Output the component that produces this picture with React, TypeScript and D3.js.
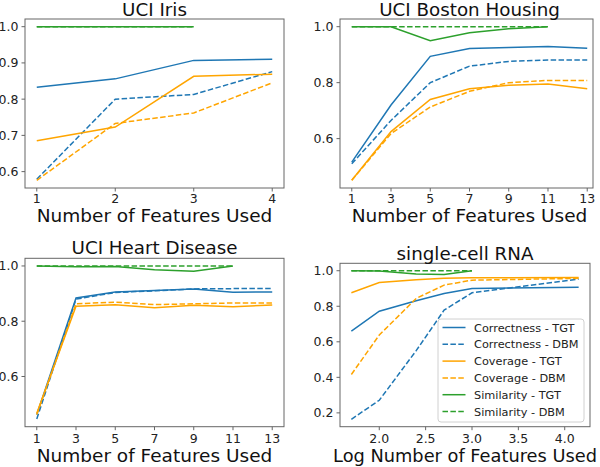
import React from "react";
import * as d3 from "d3";

// ---------- data ----------
const irisX = [1, 2, 3, 4];
const irisCorrTGT = [0.833, 0.856, 0.907, 0.91];
const irisCorrDBM = [0.579, 0.8, 0.813, 0.876];
const irisCovTGT = [0.685, 0.723, 0.863, 0.869];
const irisCovDBM = [0.576, 0.733, 0.762, 0.845];
const irisSimTGT = [1.0, 1.0, 1.0];
const irisSimDBM = [1.0, 1.0, 1.0];

const bostonX = [1, 3, 5, 7, 9, 11, 13];
const bostonCorrTGT = [0.516, 0.72, 0.894, 0.922, 0.926, 0.929, 0.923];
const bostonCorrDBM = [0.51, 0.665, 0.8, 0.859, 0.876, 0.881, 0.881];
const bostonCovTGT = [0.451, 0.625, 0.74, 0.778, 0.791, 0.795, 0.778];
const bostonCovDBM = [0.451, 0.618, 0.713, 0.769, 0.8, 0.808, 0.808];
const bostonSimTGT = [1.0, 1.0, 0.95, 0.978, 0.993, 1.0];
const bostonSimDBM = [1.0, 1.0, 1.0, 1.0, 1.0, 1.0];

const heartX = [1, 3, 5, 7, 9, 11, 13];
const heartCorrTGT = [0.462, 0.884, 0.906, 0.911, 0.917, 0.905, 0.906];
const heartCorrDBM = [0.446, 0.88, 0.904, 0.91, 0.917, 0.918, 0.918];
const heartCovTGT = [0.467, 0.854, 0.86, 0.849, 0.858, 0.852, 0.859];
const heartCovDBM = [0.462, 0.863, 0.869, 0.86, 0.863, 0.866, 0.866];
const heartSimTGT = [1.0, 0.997, 0.998, 0.986, 0.981, 1.0];
const heartSimDBM = [1.0, 1.0, 1.0, 1.0, 1.0, 1.0];

const rnaX = [1.699, 2.0, 2.398, 2.699, 3.0, 4.15];
const rnaCorrTGT = [0.66, 0.772, 0.831, 0.872, 0.9, 0.907];
const rnaCorrDBM = [0.164, 0.271, 0.55, 0.778, 0.876, 0.953];
const rnaCovTGT = [0.876, 0.934, 0.949, 0.957, 0.96, 0.962];
const rnaCovDBM = [0.416, 0.638, 0.844, 0.919, 0.947, 0.957];
const rnaSimTGT = [1.0, 0.998, 0.981, 0.979, 1.0];
const rnaSimDBM = [1.0, 1.0, 1.0, 1.0, 1.0];

const seriesNames = [
  "Correctness - TGT",
  "Correctness - DBM",
  "Coverage - TGT",
  "Coverage - DBM",
  "Similarity - TGT",
  "Similarity - DBM",
];
const seriesColors = ["#1f77b4", "#1f77b4", "#ffa500", "#ffa500", "#2ca02c", "#2ca02c"];
const seriesDashed = [false, true, false, true, false, true];

const titles = ["UCI Iris", "UCI Boston Housing", "UCI Heart Disease", "single-cell RNA"];
const xLabels = [
  "Number of Features Used",
  "Number of Features Used",
  "Number of Features Used",
  "Log Number of Features Used",
];
const xTicks = [
  [1, 2, 3, 4],
  [1, 3, 5, 7, 9, 11, 13],
  [1, 3, 5, 7, 9, 11, 13],
  [2.0, 2.5, 3.0, 3.5, 4.0],
];
const yTicks = [
  [0.6, 0.7, 0.8, 0.9, 1.0],
  [0.6, 0.8, 1.0],
  [0.6, 0.8, 1.0],
  [0.2, 0.4, 0.6, 0.8, 1.0],
];

// ---------- layout ----------
type Box = {
  left: number; right: number; top: number; bottom: number; frameRight: number;
  titleY: number; labelY: number; tickY: number; labelSize: number;
};
const boxes: Box[] = [
  { left: 25, right: 284, top: 19, bottom: 188, frameRight: 284, titleY: 15.5, labelY: 221.5, tickY: 203, labelSize: 18.5 },
  { left: 340, right: 599, top: 19, bottom: 188, frameRight: 593, titleY: 15.5, labelY: 221.5, tickY: 203, labelSize: 18.5 },
  { left: 25, right: 284, top: 258.3, bottom: 426.7, frameRight: 284, titleY: 254, labelY: 461.5, tickY: 442.5, labelSize: 18.5 },
  { left: 340, right: 590, top: 263.3, bottom: 426.7, frameRight: 590, titleY: 260, labelY: 461.5, tickY: 442.5, labelSize: 17.8 },
];

const panelData = [
  { x: irisX, ys: [irisCorrTGT, irisCorrDBM, irisCovTGT, irisCovDBM, irisSimTGT, irisSimDBM] },
  { x: bostonX, ys: [bostonCorrTGT, bostonCorrDBM, bostonCovTGT, bostonCovDBM, bostonSimTGT, bostonSimDBM] },
  { x: heartX, ys: [heartCorrTGT, heartCorrDBM, heartCovTGT, heartCovDBM, heartSimTGT, heartSimDBM] },
  { x: rnaX, ys: [rnaCorrTGT, rnaCorrDBM, rnaCovTGT, rnaCovDBM, rnaSimTGT, rnaSimDBM] },
];

const FONT = "'DejaVu Sans', sans-serif";
const SPINE = "#666";
const TEXT = "#222";

function Panel({ idx }: { idx: number }) {
  const b = boxes[idx];
  const pd = panelData[idx];
  const xExt = d3.extent(pd.x) as [number, number];
  const allY = pd.ys.flat();
  const yExt = d3.extent(allY) as [number, number];
  const xPad = (xExt[1] - xExt[0]) * 0.05;
  const yPad = (yExt[1] - yExt[0]) * 0.05;
  const x = d3.scaleLinear().domain([xExt[0] - xPad, xExt[1] + xPad]).range([b.left, b.right]);
  const y = d3.scaleLinear().domain([yExt[0] - yPad, yExt[1] + yPad]).range([b.bottom, b.top]);
  const fmtX = idx === 3 ? d3.format(".1f") : d3.format("d");
  const fmtY = d3.format(".1f");
  const cx = (b.left + b.right) / 2;
  return (
    <g>
      <defs>
        <clipPath id={`clip${idx}`}>
          <rect x={b.left} y={b.top} width={b.frameRight - b.left} height={b.bottom - b.top} />
        </clipPath>
      </defs>
      <g clipPath={`url(#clip${idx})`}>
        {pd.ys.map((ys, si) => {
          const pts = ys.map((v, i) => [pd.x[i], v] as [number, number]);
          const line = d3
            .line<[number, number]>()
            .x((d) => x(d[0]))
            .y((d) => y(d[1]));
          return (
            <path
              key={si}
              d={line(pts) || ""}
              fill="none"
              stroke={seriesColors[si]}
              strokeWidth={1.5}
              strokeDasharray={seriesDashed[si] ? "5.5,2.4" : undefined}
            />
          );
        })}
      </g>
      <rect
        x={b.left}
        y={b.top}
        width={b.frameRight - b.left}
        height={b.bottom - b.top}
        fill="none"
        stroke={SPINE}
        strokeWidth={1}
      />
      {xTicks[idx].map((t) => (
        <g key={"x" + t}>
          <line x1={x(t)} x2={x(t)} y1={b.bottom} y2={b.bottom + 3.5} stroke={SPINE} />
          <text x={x(t)} y={b.tickY} textAnchor="middle" fontSize={12.5} fill={TEXT} fontFamily={FONT}>
            {fmtX(t)}
          </text>
        </g>
      ))}
      {yTicks[idx].map((t) => (
        <g key={"y" + t}>
          <line x1={b.left - 3.5} x2={b.left} y1={y(t)} y2={y(t)} stroke={SPINE} />
          <text
            x={b.left - 6.5}
            y={y(t)}
            dy="0.36em"
            textAnchor="end"
            fontSize={12.5}
            fill={TEXT}
            fontFamily={FONT}
          >
            {fmtY(t)}
          </text>
        </g>
      ))}
      <text x={cx} y={b.titleY} textAnchor="middle" fontSize={18.3} fill="#111" fontFamily={FONT}>
        {titles[idx]}
      </text>
      <text x={cx} y={b.labelY} textAnchor="middle" fontSize={b.labelSize} fill="#111" fontFamily={FONT}>
        {xLabels[idx]}
      </text>
    </g>
  );
}

function Legend() {
  const lx = 438;
  const ly = 319;
  const w = 146;
  const h = 103;
  const rowH = 16.8;
  const firstY = 327.5;
  return (
    <g>
      <rect x={lx} y={ly} width={w} height={h} rx={3} fill="white" fillOpacity={0.8} stroke="#d0d0d0" />
      {seriesNames.map((n, i) => {
        const yy = firstY + i * rowH;
        return (
          <g key={n}>
            <line
              x1={442.5}
              x2={465.5}
              y1={yy}
              y2={yy}
              stroke={seriesColors[i]}
              strokeWidth={1.5}
              strokeDasharray={seriesDashed[i] ? "5.5,2.4" : undefined}
            />
            <text x={474} y={yy} dy="0.36em" fontSize={11.3} fill={TEXT} fontFamily={FONT}>
              {n}
            </text>
          </g>
        );
      })}
    </g>
  );
}

export default function App() {
  return (
    <svg
      width={600}
      height={467}
      style={{ position: "absolute", left: 0, top: 0, background: "white", display: "block" }}
    >
      <rect width={600} height={467} fill="white" />
      {[0, 1, 2, 3].map((i) => (
        <Panel key={i} idx={i} />
      ))}
      <Legend />
    </svg>
  );
}
